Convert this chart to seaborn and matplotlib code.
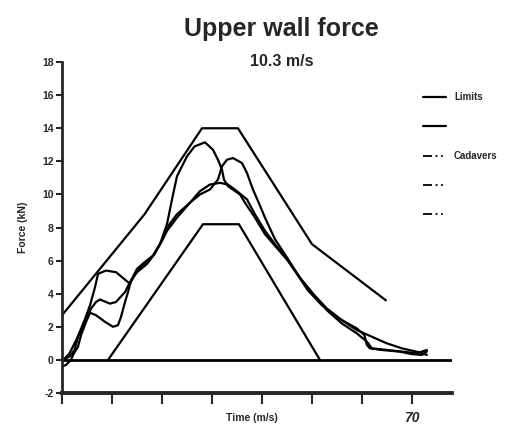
#!/usr/bin/env python3
"""
Upper wall force at 10.3 m/s: limit corridor and cadaver curves.
"""
import pandas as pd
import matplotlib
matplotlib.use("Agg")
import matplotlib.pyplot as plt
import seaborn as sns
from matplotlib.lines import Line2D

# corridor limits (time ms, force kN)
upper_t = [0, 16.5, 28, 35.2, 50, 64.8]
upper_f = [2.7, 8.8, 14, 14, 7.0, 3.6]
lower_t = [9.2, 28.2, 35.4, 51.6]
lower_f = [0, 8.2, 8.2, 0]

# cadaver tests
cad1_t = [0, 1.5, 3, 4.5, 5.6, 6.6, 7.2, 8.8, 10.8, 12.6, 13.6, 14.6, 15.6, 17, 18.2,
          19.6, 21, 22, 23, 25, 26.5, 28.6, 30.2, 31.2, 32, 32.4, 33.2, 35.6, 36.6,
          38.6, 40.6, 42.6, 45.2, 47, 49.2, 52, 55, 59, 62, 65, 68, 71.6, 73]
cad1_f = [-0.1, 0.4, 1.3, 2.4, 3.3, 4.4, 5.2, 5.4, 5.3, 4.85, 4.6, 5.2, 5.6, 5.9, 6.3,
          7.0, 8.2, 9.7, 11.1, 12.3, 12.9, 13.15, 12.7, 12.1, 11.5, 10.9, 10.5, 10.0, 9.5,
          8.6, 7.6, 6.9, 6.0, 5.2, 4.2, 3.3, 2.6, 1.8, 1.4, 1.0, 0.7, 0.45, 0.3]
cad2_t = [0, 1.5, 2.5, 3.2, 4.6, 5.8, 6.8, 7.6, 9.6, 10.8, 12.6, 13.6, 15, 17, 18.5,
          20, 21.5, 23, 25.6, 27.6, 29.6, 31.2, 32, 33, 34.2, 36, 37, 38.2, 39.5, 40.6,
          42.6, 45.2, 47.5, 50.2, 53, 56, 59, 61, 62, 65, 68, 71, 73]
cad2_f = [0.0, 0.2, 0.6, 1.4, 2.2, 3.1, 3.5, 3.65, 3.4, 3.5, 4.1, 4.7, 5.3, 5.8, 6.4,
          7.2, 8.2, 8.8, 9.5, 10.0, 10.3, 10.9, 11.7, 12.1, 12.2, 11.9, 11.3, 10.3, 9.4, 8.6,
          7.3, 6.1, 5.0, 4.0, 3.0, 2.2, 1.6, 1.1, 0.7, 0.6, 0.5, 0.4, 0.6]
cad3_t = [0, 0.8, 1.8, 2.2, 3.2, 3.8, 4.8, 5.6, 6.8, 8.6, 10.2, 11.2, 11.8, 12.6, 13.2,
          13.8, 15, 16.5, 18.2, 19.6, 21, 23, 25.6, 27.6, 29.6, 31.6, 33.2, 35, 37, 38.6,
          40.6, 42.6, 45.2, 48, 50.2, 53, 56, 59, 60.5, 61, 61.6, 64, 67.6, 70, 72, 73]
cad3_f = [-0.4, -0.3, 0.0, 0.3, 0.8, 1.5, 2.3, 2.85, 2.7, 2.3, 2.0, 2.1, 2.6, 3.5, 4.1,
          4.8, 5.5, 5.9, 6.3, 7.0, 7.8, 8.6, 9.5, 10.2, 10.6, 10.7, 10.6, 10.2, 9.7, 8.8,
          7.8, 7.0, 6.0, 4.8, 4.0, 3.1, 2.4, 1.9, 1.5, 0.9, 0.7, 0.6, 0.5, 0.35, 0.3, 0.5]

y_ticks = [-2, 0, 2, 4, 6, 8, 10, 12, 14, 16, 18]
x_ticks = [0, 10, 20, 30, 40, 50, 60, 70]
x_tick_labels = ["", "", "", "", "", "", "", "70"]


def main():
    sns.set_style("ticks")
    plt.rcParams["font.family"] = ["Liberation Sans", "DejaVu Sans"]
    plt.rcParams["font.weight"] = "bold"
    plt.rcParams["axes.unicode_minus"] = False

    fig = plt.figure(figsize=(5.17, 4.32), dpi=100)
    ax = fig.add_axes([0.12, 0.0903, 0.754, 0.766])

    series = [(upper_t, upper_f), (lower_t, lower_f),
              (cad1_t, cad1_f), (cad2_t, cad2_f), (cad3_t, cad3_f)]
    for t, f in series:
        df = pd.DataFrame({"t": t, "f": f})
        sns.lineplot(data=df, x="t", y="f", sort=False, color="black",
                     linewidth=1.6, ax=ax, legend=False)

    ax.axhline(0, color="black", linewidth=2)

    ax.set_xlim(0, 78)
    ax.set_ylim(-2, 18)
    ax.set_yticks(y_ticks)
    ax.set_xticks(x_ticks)
    ax.set_xticklabels(x_tick_labels, fontsize=10, fontweight="bold", style="italic")
    ax.tick_params(axis="y", labelsize=7.5, length=4, width=1.5, pad=2)
    ax.tick_params(axis="x", length=8, width=1.5, pad=5)
    for lab in ax.get_yticklabels():
        lab.set_fontweight("bold")

    sns.despine(ax=ax)
    ax.spines["left"].set_linewidth(2)
    ax.spines["bottom"].set_linewidth(2.8)

    ax.set_xlabel("Time (m/s)", fontsize=7.5, fontweight="bold", va="center")
    ax.xaxis.set_label_coords(0.487, -0.075)
    ax.set_ylabel("Force (kN)", fontsize=7.5, fontweight="bold", labelpad=10)

    fig.text(0.545, 0.933, "Upper wall force", ha="center", va="center",
             fontsize=18, fontweight="bold")
    fig.text(0.545, 0.857, "10.3 m/s", ha="center", va="center",
             fontsize=11.5, fontweight="bold")

    dash = (0, (5, 2, 1, 2, 1, 2))
    handles = [
        Line2D([], [], color="black", linewidth=1.6),
        Line2D([], [], color="black", linewidth=1.6),
        Line2D([], [], color="black", linewidth=1.3, linestyle=dash),
        Line2D([], [], color="black", linewidth=1.3, linestyle=dash),
        Line2D([], [], color="black", linewidth=1.3, linestyle=dash),
    ]
    labels = ["Limits", "", "Cadavers", "", ""]
    fig.legend(handles, labels, loc="upper left", bbox_to_anchor=(0.818, 0.787),
               frameon=False, fontsize=7, handlelength=2.4, handletextpad=0.8,
               labelspacing=2.0, borderaxespad=0, borderpad=0)

    fig.savefig("out.png", dpi=100)
    plt.close(fig)


if __name__ == "__main__":
    main()
